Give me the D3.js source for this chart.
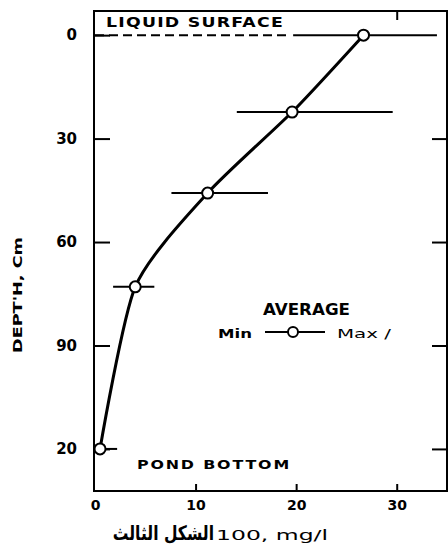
<!DOCTYPE html>
<html>
<head>
<meta charset="utf-8">
<script src="https://cdn.jsdelivr.net/npm/d3@7"></script>
<style>
  html, body { margin: 0; padding: 0; background: #fff; }
  svg { display: block; }
  text { font-family: "DejaVu Sans", sans-serif; fill: #000; }
</style>
</head>
<body>
<svg id="chart" width="448" height="560"></svg>
<script>
// Depth profile: average concentration with min/max range at each depth
const depths   = [0, 22.3, 45.8, 73, 120];
const averages = [26.7, 19.6, 11.2, 4.0, 0.5];
const minimums = [19.7, 14.1, 7.6, 1.8, 0];
const maximums = [34.0, 29.6, 17.2, 5.9, 2.2];

const depthTicks  = [0, 30, 60, 90, 120];
const depthLabels = ["0", "30", "60", "90", "20"];
const concTicks   = [0, 10, 20, 30];
const concLabels  = ["0", "10", "20", "30"];

const svg = d3.select("#chart");

const x = d3.scaleLinear().domain([0, 35]).range([95, 447]);
const y = d3.scaleLinear().domain([-7, 132.2]).range([11, 491]);

// Frame
svg.append("rect")
  .attr("x", 94).attr("y", 11)
  .attr("width", 447 - 94).attr("height", 491 - 11)
  .attr("fill", "none").attr("stroke", "#000").attr("stroke-width", 2);

// Left axis (ticks point inward)
const leftAxis = svg.append("g").attr("transform", "translate(94,0)")
  .call(d3.axisLeft(y).tickValues(depthTicks)
    .tickFormat((d, i) => depthLabels[i])
    .tickSizeInner(-16).tickSizeOuter(0).tickPadding(17));
leftAxis.select(".domain").remove();
leftAxis.selectAll("line").attr("stroke-width", 2);
leftAxis.selectAll("text").attr("font-size", 15).attr("font-family", "DejaVu Sans").attr("font-weight", "bold");

// Right axis ticks
const rightAxis = svg.append("g").attr("transform", "translate(447,0)")
  .call(d3.axisRight(y).tickValues([30, 60, 90, 120])
    .tickFormat("").tickSizeInner(-15).tickSizeOuter(0));
rightAxis.select(".domain").remove();
rightAxis.selectAll("line").attr("stroke-width", 2);

// Bottom axis
const bottomAxis = svg.append("g").attr("transform", "translate(0,491)")
  .call(d3.axisBottom(x).tickValues(concTicks)
    .tickFormat((d, i) => concLabels[i])
    .tickSizeInner(-7).tickSizeOuter(0).tickPadding(9));
bottomAxis.select(".domain").remove();
bottomAxis.selectAll("line").attr("stroke-width", 2);
bottomAxis.selectAll("text").attr("font-size", 14).attr("font-family", "DejaVu Sans").attr("font-weight", "bold");
bottomAxis.selectAll(".tick").filter(d => d === 0).select("line").remove();

// Top axis tick
const topAxis = svg.append("g").attr("transform", "translate(0,11)")
  .call(d3.axisTop(x).tickValues([30]).tickFormat("")
    .tickSizeInner(-9).tickSizeOuter(0));
topAxis.select(".domain").remove();
topAxis.selectAll("line").attr("stroke-width", 2);

// Liquid surface (dashed) at depth 0
svg.append("line")
  .attr("x1", x(0)).attr("x2", x(19.4))
  .attr("y1", y(0)).attr("y2", y(0))
  .attr("stroke", "#000").attr("stroke-width", 2)
  .attr("stroke-dasharray", "9,5");

svg.append("text").attr("x", 106).attr("y", 27)
  .attr("font-size", 14).attr("font-weight", "bold").attr("letter-spacing", 1)
  .attr("textLength", 178).attr("lengthAdjust", "spacingAndGlyphs")
  .text("LIQUID SURFACE");

svg.append("text").attr("x", 137).attr("y", 469)
  .attr("font-size", 13).attr("font-weight", "bold").attr("letter-spacing", 1.5)
  .attr("textLength", 154).attr("lengthAdjust", "spacingAndGlyphs")
  .text("POND BOTTOM");

// Min–max ranges
svg.append("g").selectAll("line").data(depths).join("line")
  .attr("x1", (d, i) => x(minimums[i]))
  .attr("x2", (d, i) => x(maximums[i]))
  .attr("y1", d => y(d)).attr("y2", d => y(d))
  .attr("stroke", "#000").attr("stroke-width", 2);

// Average profile
const profile = d3.line()
  .x((d, i) => x(averages[i]))
  .y(d => y(d))
  .curve(d3.curveCardinal.tension(0.3));
svg.append("path").datum(depths)
  .attr("d", profile)
  .attr("fill", "none").attr("stroke", "#000").attr("stroke-width", 3);

svg.append("g").selectAll("circle").data(depths).join("circle")
  .attr("cx", (d, i) => x(averages[i]))
  .attr("cy", d => y(d))
  .attr("r", 5.5)
  .attr("fill", "#fff").attr("stroke", "#000").attr("stroke-width", 2);

// Legend
svg.append("text").attr("x", 263).attr("y", 315)
  .attr("font-size", 15).attr("font-weight", "bold")
  .attr("textLength", 87).attr("lengthAdjust", "spacingAndGlyphs").text("AVERAGE");
svg.append("text").attr("x", 218).attr("y", 338)
  .attr("font-size", 13).attr("font-weight", "bold")
  .attr("textLength", 34).attr("lengthAdjust", "spacingAndGlyphs").text("Min");
svg.append("line").attr("x1", 265).attr("x2", 325)
  .attr("y1", 332).attr("y2", 332)
  .attr("stroke", "#000").attr("stroke-width", 2);
svg.append("circle").attr("cx", 293).attr("cy", 332).attr("r", 5)
  .attr("fill", "#fff").attr("stroke", "#000").attr("stroke-width", 2);
svg.append("text").attr("x", 337).attr("y", 338)
  .attr("font-size", 13)
  .attr("textLength", 54).attr("lengthAdjust", "spacingAndGlyphs").text("Max /");

// Axis titles
svg.append("text")
  .attr("transform", "translate(22,295) rotate(-90)")
  .attr("text-anchor", "middle")
  .attr("font-size", 13).attr("font-weight", "bold")
  .attr("textLength", 116).attr("lengthAdjust", "spacingAndGlyphs")
  .text("DEPT'H, Cm");

svg.append("text")
  .attr("transform", "translate(214,540) scale(0.78,1)")
  .attr("text-anchor", "end")
  .attr("font-size", 20).attr("font-weight", "bold")
  .text("الشكل الثالث");
svg.append("text").attr("x", 216).attr("y", 540)
  .attr("font-size", 14)
  .attr("textLength", 112).attr("lengthAdjust", "spacingAndGlyphs")
  .text("100, mg/l");
</script>
</body>
</html>
